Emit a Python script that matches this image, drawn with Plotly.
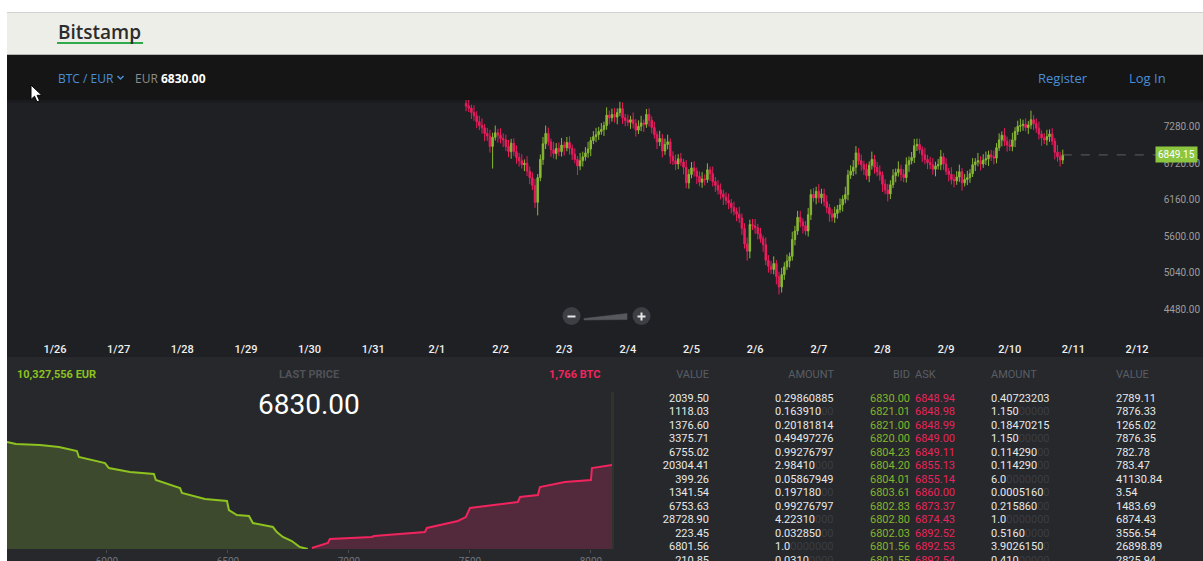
import plotly.graph_objects as go
import pandas as pd

W, H = 1203, 561


def px(x):
    return x / W


def py(y):
    return 1 - y / H


# ---------------- data ----------------
candle_start = "2018-02-01 11:00"
first_open = 7640
closes = [
    7600, 7570, 7500, 7450, 7360, 7300, 7265, 7180, 7140, 6980,
    7120, 7190, 7150, 7100, 7080, 6980, 6900, 7030, 6900, 6810,
    6760, 6700, 6720, 6600, 6500, 6380, 6120, 6500, 6780, 7020,
    7180, 7050, 6930, 6870, 6950, 6900, 7000, 6960, 7040, 6950,
    6860, 6780, 6680, 6760, 6820, 6880, 6940, 7070, 7130, 7160,
    7210, 7240, 7300, 7460, 7420, 7470, 7430, 7500, 7560, 7420,
    7380, 7350, 7390, 7330, 7230, 7290, 7340, 7320, 7470, 7380,
    7270, 7160, 7050, 7100, 6910, 7010, 7050, 6830, 6760, 6710,
    6790, 6740, 6660, 6420, 6550, 6650, 6600, 6520, 6430, 6480,
    6470, 6620, 6560, 6440, 6380, 6310, 6250, 6200, 6150, 6110,
    6040, 5980, 5940, 5880, 5720, 5480, 5370, 5780, 5760, 5730,
    5640, 5560, 5470, 5230, 5140, 5090, 5180, 4980, 4820, 5010,
    5130, 5220, 5290, 5550, 5680, 5890, 5820, 5760, 5680, 5930,
    6240, 6190, 6290, 6190, 6250, 6130, 6040, 5940, 5890, 5950,
    6010, 6080, 6170, 6240, 6540, 6600, 6660, 6880, 6760, 6700,
    6630, 6530, 6690, 6780, 6660, 6590, 6540, 6400, 6310, 6250,
    6390, 6530, 6580, 6630, 6550, 6500, 6700, 6760, 6810, 6990,
    7010, 6930, 6850, 6780, 6730, 6700, 6630, 6680, 6700, 6820,
    6710, 6600, 6550, 6470, 6450, 6510, 6590, 6420, 6470, 6500,
    6560, 6700, 6740, 6760, 6710, 6770, 6790, 6850, 6820, 6800,
    6960, 7080, 7150, 7060, 7000, 6980, 7080, 7210, 7290, 7300,
    7320, 7270, 7310, 7390, 7330, 7260, 7170, 7110, 7080, 7130,
    7170, 7060, 6890, 6820, 6770, 6849.15,
]
highs = [
    7720, 7700, 7620, 7610, 7520, 7450, 7410, 7325, 7265, 7235,
    7190, 7300, 7250, 7260, 7180, 7160, 7080, 7095, 7105, 6995,
    6880, 6860, 6780, 6830, 6670, 6580, 6480, 6555, 6855, 7125,
    7300, 7270, 7100, 7050, 7030, 7040, 7110, 7055, 7125, 7135,
    7010, 6950, 6830, 6880, 6900, 6970, 7050, 7125, 7215, 7265,
    7280, 7340, 7360, 7580, 7530, 7560, 7570, 7565, 7665, 7655,
    7480, 7470, 7450, 7500, 7400, 7380, 7450, 7395, 7555, 7565,
    7440, 7360, 7210, 7220, 7170, 7100, 7160, 7105, 6905, 6855,
    6860, 6880, 6790, 6770, 6630, 6740, 6750, 6655, 6595, 6585,
    6550, 6720, 6670, 6670, 6510, 6460, 6410, 6315, 6275, 6255,
    6170, 6130, 6040, 6050, 5950, 5800, 5580, 5855, 5865, 5865,
    5790, 5730, 5610, 5580, 5310, 5220, 5290, 5235, 5055, 5115,
    5200, 5320, 5350, 5670, 5760, 5990, 5990, 5875, 5835, 6035,
    6320, 6340, 6360, 6400, 6330, 6330, 6230, 6095, 6015, 6055,
    6080, 6180, 6230, 6360, 6620, 6690, 6770, 6985, 6955, 6855,
    6760, 6720, 6750, 6900, 6850, 6740, 6690, 6595, 6475, 6405,
    6460, 6630, 6640, 6750, 6700, 6630, 6810, 6825, 6895, 7095,
    7100, 7100, 6980, 6960, 6850, 6820, 6800, 6745, 6785, 6925,
    6880, 6800, 6650, 6660, 6550, 6600, 6700, 6645, 6555, 6605,
    6630, 6800, 6800, 6880, 6830, 6860, 6900, 6915, 6925, 6915,
    7030, 7180, 7210, 7260, 7130, 7090, 7190, 7275, 7375, 7405,
    7390, 7410, 7370, 7530, 7460, 7410, 7360, 7225, 7185, 7235,
    7240, 7260, 7110, 7000, 6900, 6930,
]
lows = [
    7520, 7510, 7400, 7375, 7260, 7230, 7175, 7060, 7065, 6885,
    6640, 7070, 7040, 7025, 6970, 6910, 6815, 6790, 6835, 6715,
    6670, 6640, 6600, 6525, 6400, 6310, 6035, 5920, 6445, 6695,
    6940, 6990, 6820, 6795, 6780, 6830, 6825, 6840, 6905, 6855,
    6770, 6720, 6540, 6615, 6670, 6760, 6805, 6830, 7015, 7045,
    7080, 7160, 7140, 7235, 7320, 7360, 7345, 7320, 7445, 7325,
    7290, 7290, 7250, 7255, 7130, 7170, 7215, 7200, 7265, 7285,
    7180, 7100, 6940, 6985, 6810, 6850, 6935, 6710, 6695, 6615,
    6630, 6680, 6550, 6335, 6330, 6490, 6515, 6400, 6365, 6345,
    6380, 6420, 6450, 6365, 6280, 6240, 6165, 6080, 6085, 6015,
    5950, 5920, 5830, 5805, 5620, 5410, 5225, 5260, 5695, 5635,
    5550, 5500, 5360, 5155, 5040, 5020, 5015, 4860, 4705, 4735,
    4930, 5080, 5120, 5225, 5460, 5620, 5735, 5640, 5615, 5595,
    5850, 6130, 6090, 6115, 6100, 6060, 5955, 5820, 5825, 5805,
    5870, 5960, 5980, 6105, 6150, 6480, 6525, 6550, 6695, 6605,
    6540, 6470, 6430, 6625, 6560, 6520, 6455, 6280, 6245, 6135,
    6170, 6340, 6430, 6515, 6450, 6430, 6425, 6590, 6705, 6725,
    6910, 6870, 6740, 6705, 6630, 6630, 6545, 6520, 6625, 6615,
    6620, 6540, 6440, 6395, 6350, 6390, 6435, 6300, 6365, 6385,
    6420, 6510, 6600, 6675, 6610, 6650, 6695, 6680, 6755, 6705,
    6720, 6910, 6980, 6985, 6900, 6910, 6905, 6970, 7155, 7205,
    7220, 7210, 7170, 7245, 7230, 7190, 7085, 6990, 7015, 6995,
    7050, 7000, 6780, 6745, 6670, 6710,
]
price_ticks = [4480, 5040, 5600, 6160, 6720, 7280]
date_tick0 = "2018-01-26"
last_label_price = 6849.15

# depth chart (price, cumulative BTC)
bid_depth_price = [5587, 5624, 5723, 5802, 5876, 5884, 5992, 6008, 6095, 6194, 6202,
                   6302, 6310, 6405, 6496, 6504, 6537, 6587, 6603, 6686, 6702, 6727,
                   6764, 6797, 6830]
bid_depth_cum = [1436, 1409, 1396, 1369, 1315, 1235, 1154, 1087, 1033, 1007, 926,
                 819, 752, 671, 644, 523, 456, 443, 349, 295, 228, 161,
                 107, 27, 0]
ask_depth_price = [6847, 6913, 6921, 7095, 7103, 7314, 7322, 7421, 7450, 7483, 7500,
                   7698, 7707, 7781, 7789, 7892, 8000, 8004, 8074, 8087]
ask_depth_cum = [13, 81, 134, 161, 174, 228, 282, 349, 376, 429, 550,
                 631, 698, 725, 832, 899, 926, 1087, 1127, 1127]
depth_ticks = [6000, 6500, 7000, 7500, 8000]

total_bids = "10,327,556 EUR"
total_asks = "1,766 BTC"
last_price = "6830.00"

# order book
ob_bid_value = [2039.50, 1118.03, 1376.60, 3375.71, 6755.02, 20304.41, 399.26,
                1341.54, 6753.63, 28728.90, 223.45, 6801.56, 210.85]
ob_bid_amount = ["0.29860885", "0.163910", "0.20181814", "0.49497276", "0.99276797",
                 "2.98410", "0.05867949", "0.197180", "0.99276797", "4.22310",
                 "0.032850", "1.0", "0.0310"]
ob_bid = [6830.00, 6821.01, 6821.00, 6820.00, 6804.23, 6804.20, 6804.01,
          6803.61, 6802.83, 6802.80, 6802.03, 6801.56, 6801.55]
ob_ask = [6848.94, 6848.98, 6848.99, 6849.00, 6849.11, 6855.13, 6855.14,
          6860.00, 6873.37, 6874.43, 6892.52, 6892.53, 6892.54]
ob_ask_amount = ["0.40723203", "1.150", "0.18470215", "1.150", "0.114290",
                 "0.114290", "6.0", "0.0005160", "0.215860", "1.0",
                 "0.5160", "3.9026150", "0.410"]
ob_ask_value = [2789.11, 7876.33, 1265.02, 7876.35, 782.78, 783.47, 41130.84,
                3.54, 1483.69, 6874.43, 3556.54, 26898.89, 2825.94]

# ---------------- styling ----------------
GREEN = "#88b934"
RED = "#ec1c5e"
TXT_GREEN = "#84b52a"
TXT_RED = "#e8245c"
BLUE = "#4a8fd6"
DIM = "#3a3d43"

times = pd.date_range(candle_start, periods=len(closes), freq="h")
opens = [first_open] + closes[:-1]

fig = go.Figure()

fig.add_trace(go.Candlestick(
    x=times, open=opens, high=highs, low=lows, close=closes,
    increasing=dict(line=dict(color=GREEN, width=1), fillcolor=GREEN),
    decreasing=dict(line=dict(color=RED, width=1), fillcolor=RED),
    whiskerwidth=0, xaxis="x", yaxis="y", hoverinfo="skip",
))

fig.add_trace(go.Scatter(
    x=bid_depth_price, y=bid_depth_cum, mode="lines",
    line=dict(color="#8dc21f", width=2), fill="tozeroy", fillcolor="#3e4a2d",
    xaxis="x2", yaxis="y2", hoverinfo="skip",
))
fig.add_trace(go.Scatter(
    x=ask_depth_price, y=ask_depth_cum, mode="lines",
    line=dict(color="#f2245e", width=2), fill="tozeroy", fillcolor="#53293c",
    xaxis="x2", yaxis="y2", hoverinfo="skip",
))


def padded(s):
    pad = 10 - len(s)
    if pad <= 0:
        return s
    return s + "<span style='color:%s'>%s</span>" % (DIM, "0" * pad)


rows = list(range(len(ob_bid)))


def text_col(xpos, texts, color, pos):
    fig.add_trace(go.Scatter(
        x=[xpos] * len(texts), y=rows[:len(texts)], mode="text", text=texts,
        textposition=pos, textfont=dict(family="Roboto", size=11, color=color),
        xaxis="x3", yaxis="y3", hoverinfo="skip", cliponaxis=False,
    ))


text_col(709, ["%.2f" % v for v in ob_bid_value], "#e8e8e8", "middle left")
text_col(775, [padded(s) for s in ob_bid_amount], "#e8e8e8", "middle right")
text_col(870, ["%.2f" % v for v in ob_bid], TXT_GREEN, "middle right")
text_col(915, ["%.2f" % v for v in ob_ask], TXT_RED, "middle right")
text_col(991, [padded(s) for s in ob_ask_amount], "#e8e8e8", "middle right")
text_col(1116, ["%.2f" % v for v in ob_ask_value], "#e8e8e8", "middle right")

HDR = "#5a5e64"
header_row = -1.78
for xpos, label, pos in [(709, "VALUE", "middle left"), (834, "AMOUNT", "middle left"),
                         (910, "BID", "middle left"), (915, "ASK", "middle right"),
                         (991, "AMOUNT", "middle right"), (1116, "VALUE", "middle right")]:
    fig.add_trace(go.Scatter(
        x=[xpos], y=[header_row], mode="text", text=[label], textposition=pos,
        textfont=dict(family="Roboto", size=11, color=HDR),
        xaxis="x3", yaxis="y3", hoverinfo="skip", cliponaxis=False,
    ))

# ---------------- shapes ----------------
shapes = []


def rect(x0, y0, x1, y1, color, layer="below"):
    shapes.append(dict(type="rect", xref="paper", yref="paper",
                       x0=px(x0), x1=px(x1), y0=py(y1), y1=py(y0),
                       fillcolor=color, line=dict(width=0), layer=layer))


def path(points, fill, line_color, lw=1, layer="above", closed=True):
    d = "M " + " L ".join("%.5f,%.5f" % (px(a), py(b)) for a, b in points)
    if closed:
        d += " Z"
    shapes.append(dict(type="path", xref="paper", yref="paper", path=d,
                       fillcolor=fill, line=dict(color=line_color, width=lw), layer=layer))


rect(7, 12, 1203, 13, "#d2d2d2")
rect(7, 13, 1203, 54, "#eeeee9")
rect(7, 54, 1203, 55, "#b4b4b0")
rect(7, 55, 1203, 100, "#151515")
rect(7, 100, 1203, 357, "#1f2024")
rect(7, 100, 1203, 103, "#1a1b1e")
rect(7, 357, 1203, 561, "#26282c")
rect(57, 42, 143, 44, "#2faa4a")
rect(611, 392, 614, 549, "#2f332c")

# chevron next to pair
path([(117.5, 76), (120.5, 79), (123.5, 76)], "rgba(0,0,0,0)", BLUE, 1.5, closed=False)

# zoom control
for cx in (571.5, 641.5):
    shapes.append(dict(type="circle", xref="paper", yref="paper",
                       x0=px(cx - 9), x1=px(cx + 9), y0=py(325), y1=py(307),
                       fillcolor="#3d3f44", line=dict(width=0), layer="above"))
path([(584, 318.5), (627, 313.5), (627, 319.5), (584, 320)], "#56585d", "#56585d", 0.5)
rect(567.5, 315.5, 575.5, 317.5, "#e6e6e6", "above")
rect(637.5, 315.5, 645.5, 317.5, "#e6e6e6", "above")
rect(640.5, 312.5, 642.5, 320.5, "#e6e6e6", "above")

# mouse cursor
path([(31, 85), (31, 99.5), (34.5, 96.2), (37, 101.8), (39.6, 100.7), (37.1, 95.3), (41.8, 95.3)],
     "#ffffff", "#000000", 1)

# dashed last-price line
shapes.append(dict(type="line", xref="x", yref="y", x0=times[-1], x1="2018-02-13 00:00",
                   y0=last_label_price, y1=last_label_price,
                   line=dict(color="#5c5e63", width=1, dash="dash"), layer="above"))

# ---------------- annotations ----------------
ann = []


def text(x, y, s, size, color, anchor="left", family="Roboto", weight="normal", yref="paper", **kw):
    ann.append(dict(x=px(x), y=py(y) if yref == "paper" else y, xref="paper", yref=yref,
                    text=s, showarrow=False, xanchor=anchor, yanchor="middle",
                    font=dict(family=family, size=size, color=color, weight=weight), **kw))


text(56, 32, "Bitstamp", 19, "#2c2c2c", family="Open Sans", weight=600)
text(56, 78, "BTC / EUR", 12, BLUE, family="Open Sans")
text(133, 78, "<span style='color:#8c8c8c'>EUR</span> <b>6830.00</b>", 12, "#ffffff",
     family="Open Sans")
text(1063, 78, "Register", 13, BLUE, anchor="center", family="Open Sans")
text(1147, 78, "Log In", 13, BLUE, anchor="center", family="Open Sans")

text(1198, last_label_price, "%.2f" % last_label_price, 10, "#ffffff", anchor="right",
     yref="y", bgcolor="#8cc63f", borderpad=2)

text(15, 374, total_bids, 11, "#8cc21f", weight="bold")
text(309, 374, "LAST PRICE", 11, "#4f5358", anchor="center", weight="bold")
text(602, 374, total_asks, 11, "#f2255e", anchor="right", weight="bold")
text(309, 404, last_price, 28, "#ffffff", anchor="center")

axis_off = dict(visible=False, showgrid=False, zeroline=False, fixedrange=True, automargin=False)

fig.update_layout(
    template="none",
    width=W, height=H, autosize=False,
    margin=dict(l=0, r=0, t=0, b=0, pad=0, autoexpand=False),
    paper_bgcolor="#ffffff", plot_bgcolor="rgba(0,0,0,0)",
    showlegend=False, hovermode=False, dragmode=False, boxgap=0.2,
    shapes=shapes, annotations=ann,
    xaxis=dict(
        domain=[px(7), 1.0], type="date", automargin=False,
        range=["2018-01-25 05:54", "2018-02-13 00:52"],
        tick0=date_tick0, dtick=86400000, tickformat="%-m/%-d",
        ticks="", showgrid=False, zeroline=False, showline=False,
        tickfont=dict(family="Roboto", size=11, color="#f0f0f0", weight=500),
        rangeslider=dict(visible=False), fixedrange=True, anchor="y",
    ),
    yaxis=dict(
        domain=[py(341), py(100)], range=[3990, 7693], automargin=False,
        side="right", ticklabelposition="inside", anchor="x",
        tickvals=price_ticks, ticktext=["%.2f" % v for v in price_ticks],
        ticks="", showgrid=False, zeroline=False, showline=False,
        tickfont=dict(family="Roboto", size=10, color="#9d9d9d"), fixedrange=True,
    ),
    xaxis2=dict(
        domain=[px(7), px(612)], range=[5587, 8087], anchor="y2", automargin=False,
        tickvals=depth_ticks, ticks="outside", ticklen=3, tickcolor="#4a4d52",
        tickfont=dict(family="Roboto", size=10, color="#70747a"),
        showgrid=False, zeroline=False, showline=False, fixedrange=True,
    ),
    yaxis2=dict(domain=[py(549), py(400)], range=[0, 2000], anchor="x2", **axis_off),
    xaxis3=dict(domain=[px(620), 1.0], range=[620, 1203], anchor="y3", **axis_off),
    yaxis3=dict(domain=[0, py(357)], range=[12.0, -3.11], anchor="x3", **axis_off),
)

post = (
    "document.documentElement.style.margin='0';document.body.style.margin='0';"
    "document.documentElement.style.overflow='hidden';document.body.style.overflow='hidden';"
)

fig.write_html(
    "out.html",
    config={"displayModeBar": False, "staticPlot": True},
    post_script=post,
)
